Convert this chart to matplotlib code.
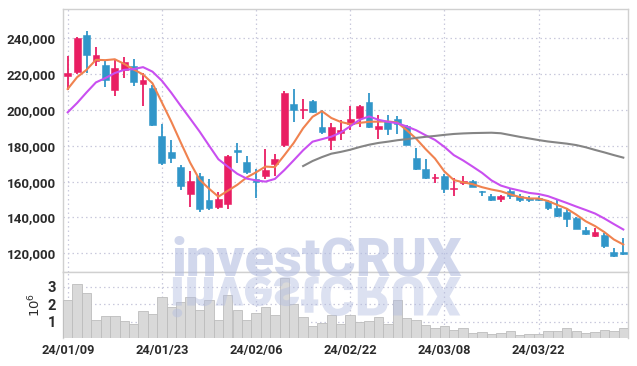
import matplotlib
matplotlib.use('Agg')
import matplotlib.pyplot as plt
import numpy as np
from matplotlib.textpath import TextPath
from matplotlib.patches import PathPatch
from matplotlib.font_manager import FontProperties
from matplotlib.transforms import Affine2D
from matplotlib.ticker import FuncFormatter, FixedLocator

# ---------------- data (prices in KRW, volume in shares) ----------------
opens = [218.7, 221.0, 241.9, 227.6, 225.2, 210.9, 222.4, 224.6, 214.3, 212.4,
         185.7, 176.3, 168.0, 153.3, 163.0, 149.6, 145.9, 147.4, 177.6, 170.7,
         161.3, 163.1, 169.6, 180.2, 203.1, 199.8, 205.2, 190.7, 183.1, 187.2,
         191.9, 195.7, 204.5, 189.1, 194.0, 194.9, 191.0, 173.3, 167.1, 161.9,
         163.2, 155.7, 159.1, 160.6, 154.4, 151.8, 150.3, 154.6, 152.2, 151.1,
         150.9, 149.2, 145.5, 143.0, 139.8, 133.0, 129.9, 130.2, 120.8, 120.5]
highs = [230.2, 240.5, 244.1, 235.0, 228.0, 228.0, 229.8, 228.3, 220.6, 214.1,
         192.4, 183.1, 169.4, 165.9, 164.6, 161.3, 154.3, 174.6, 181.7, 174.4,
         167.2, 178.3, 175.6, 210.4, 211.7, 206.1, 205.7, 199.8, 192.8, 194.6,
         202.4, 202.8, 209.4, 197.2, 197.2, 196.6, 191.5, 178.8, 172.8, 164.3,
         164.3, 161.9, 163.4, 161.1, 154.9, 152.9, 152.5, 156.0, 152.9, 151.8,
         151.8, 150.0, 149.6, 145.5, 140.4, 134.8, 134.3, 131.5, 122.9, 128.4]
lows = [211.3, 220.0, 220.6, 224.6, 212.8, 208.0, 217.8, 213.5, 202.4, 190.9,
        169.3, 170.2, 155.4, 145.6, 143.1, 144.3, 145.0, 145.0, 170.2, 164.1,
        151.1, 161.7, 163.1, 179.3, 193.1, 195.0, 198.3, 186.8, 177.4, 183.5,
        188.7, 190.6, 190.0, 184.0, 185.9, 186.5, 180.3, 166.6, 161.5, 159.2,
        153.4, 152.1, 158.3, 156.8, 152.1, 149.2, 148.9, 150.5, 148.7, 148.7,
        149.0, 144.4, 140.4, 134.8, 133.4, 130.2, 129.0, 123.2, 117.9, 119.2]
closes = [220.9, 240.0, 230.9, 230.7, 216.5, 223.5, 226.9, 215.4, 216.9, 191.8,
          170.2, 173.1, 157.6, 160.2, 144.6, 145.2, 150.2, 174.1, 176.7, 165.2,
          159.8, 166.3, 172.4, 209.6, 199.8, 200.7, 198.7, 187.6, 190.6, 188.7,
          194.9, 202.4, 190.6, 191.0, 189.1, 191.9, 180.7, 167.1, 162.1, 162.8,
          155.9, 156.6, 160.6, 157.2, 154.0, 149.6, 151.8, 151.8, 149.6, 150.0,
          149.6, 145.2, 140.7, 139.1, 133.6, 130.8, 131.7, 123.8, 118.6, 119.5]
ma_short = [211.7, 218.3, 222.4, 228.0, 227.8, 228.3, 225.7, 222.6, 219.8, 214.9,
            204.2, 193.5, 181.9, 170.6, 161.1, 156.1, 151.6, 154.9, 158.2, 162.3,
            165.2, 168.4, 168.1, 174.7, 181.6, 189.8, 196.2, 199.3, 195.5, 193.3,
            192.1, 192.8, 193.4, 193.5, 193.6, 193.0, 188.7, 184.0, 178.2, 172.9,
            165.7, 160.9, 159.6, 158.6, 156.9, 155.6, 154.6, 152.9, 151.4, 150.6,
            150.6, 149.2, 147.0, 144.9, 141.6, 137.9, 135.2, 131.8, 127.7, 124.9]
ma_mid = [198.7, 203.9, 209.8, 215.4, 217.8, 220.6, 222.4, 222.8, 223.9, 221.4,
          216.3, 209.6, 202.3, 195.2, 188.0, 180.2, 172.5, 168.4, 164.4, 161.7,
          160.7, 160.0, 161.5, 166.4, 171.9, 177.5, 182.3, 183.7, 185.1, 187.4,
          190.9, 194.5, 196.4, 194.5, 193.4, 192.6, 190.8, 188.7, 185.9, 183.3,
          179.4, 174.8, 171.8, 168.4, 164.9, 160.7, 157.8, 156.2, 155.0, 153.7,
          153.1, 151.9, 150.0, 148.1, 146.1, 144.2, 142.2, 139.4, 136.3, 133.3]
ma_long = [None] * 25 + [
    168.7, 171.5, 173.7, 175.6, 176.6,
    177.8, 179.3, 180.6, 181.6, 182.3, 183.1, 183.7, 184.4, 185.0, 185.5,
    186.1, 186.6, 186.9, 187.1, 187.2, 187.3, 187.0, 186.0, 185.0, 184.1,
    183.2, 182.4, 181.8, 181.2, 180.4, 179.2, 177.7, 176.3, 174.8, 173.4]
volumes = [2.22, 3.13, 2.62, 1.08, 1.30, 1.30, 1.04, 0.87, 1.59, 1.42,
           2.39, 1.82, 2.10, 2.39, 1.67, 2.22, 1.08, 2.50, 1.67, 1.08,
           1.48, 1.82, 1.38, 3.48, 2.01, 1.25, 0.73, 0.92, 1.36, 0.87,
           1.36, 0.98, 1.02, 1.25, 0.87, 2.22, 1.19, 1.08, 0.79, 0.64,
           0.73, 0.52, 0.62, 0.33, 0.39, 0.28, 0.35, 0.45, 0.22, 0.28,
           0.30, 0.45, 0.47, 0.62, 0.47, 0.35, 0.41, 0.50, 0.47, 0.62]
tick_labels = ['24/01/09', '24/01/23', '24/02/06', '24/02/22', '24/03/08', '24/03/22']
tick_index = [0, 10, 20, 30, 40, 50]

# ---------------- styling ----------------
UP = '#e91e63'
DOWN = '#3196c9'
GRID = '#c9c9dc'
TXT = '#2b2b2b'
plt.rcParams['font.family'] = ['Roboto', 'DejaVu Sans']

W, H, DPI = 637, 366, 100
fig = plt.figure(figsize=(W / DPI, H / DPI), dpi=DPI)

L, R = 63 / W, 628 / W
ax = fig.add_axes([L, 1 - 272 / H, R - L, (272 - 9) / H])
axv = fig.add_axes([L, 1 - 337.5 / H, R - L, (337.5 - 272) / H], sharex=ax)

o = np.array(opens) * 1000
h = np.array(highs) * 1000
lo = np.array(lows) * 1000
c = np.array(closes) * 1000
x = np.arange(len(o))
cols = [UP if cc >= oo else DOWN for oo, cc in zip(o, c)]

ax.vlines(x, lo, h, colors=cols, linewidth=1.3, zorder=3)
bottoms = np.minimum(o, c)
heights = np.maximum(np.abs(c - o), 500)
ax.bar(x, heights, bottom=bottoms, width=0.72, color=cols, edgecolor=cols,
       linewidth=0.4, zorder=4)

def to_arr(a):
    return np.array([np.nan if v is None else v * 1000 for v in a])

ax.plot(x, to_arr(ma_short), color='#f0824f', linewidth=1.5, zorder=5)
ax.plot(x, to_arr(ma_mid), color='#c94ff0', linewidth=1.5, zorder=5)
ax.plot(x, to_arr(ma_long), color='#858585', linewidth=1.5, zorder=5)

ax.set_xlim(-0.5, len(o) - 0.5)
ax.set_ylim(109560, 256350)
ax.yaxis.set_major_locator(FixedLocator([120000, 140000, 160000, 180000, 200000, 220000, 240000]))
ax.yaxis.set_major_formatter(FuncFormatter(lambda v, p: f'{int(v):,}'))

vol = np.array(volumes) * 1e6
axv.bar(x, vol, width=1.0, color='#d9d9d9', edgecolor='#bdbdbd', linewidth=0.6, zorder=3)
axv.set_ylim(0.1e6, 3.84e6)
axv.yaxis.set_major_locator(FixedLocator([1e6, 2e6, 3e6]))
axv.yaxis.set_major_formatter(FuncFormatter(lambda v, p: f'{int(round(v / 1e6))}'))
axv.set_ylabel(r'$10^6$', fontsize=9.5, color=TXT, labelpad=3)

axv.xaxis.set_major_locator(FixedLocator(tick_index))
axv.set_xticklabels(tick_labels)
plt.setp(ax.get_xticklabels(), visible=False)

for a in (ax, axv):
    a.grid(True, color=GRID, linestyle=(0, (1.2, 2.4)), linewidth=0.9, zorder=0)
    a.set_axisbelow(True)
    a.tick_params(axis='y', length=0, pad=5, labelsize=9.6, labelcolor=TXT)
    a.tick_params(axis='x', length=0, pad=5, labelsize=9.2, labelcolor=TXT)
    for lab in a.get_yticklabels() + a.get_xticklabels():
        lab.set_fontweight('bold')
    for s in a.spines.values():
        s.set_color('#d0d0d0')
        s.set_linewidth(1.0)
axv.tick_params(axis='y', labelsize=10.5)
axv.spines['bottom'].set_visible(False)
ax.spines['bottom'].set_color('#d8d8d8')

# ---------------- watermark ----------------
wm_prop = FontProperties(family=['Roboto'], weight='black')
wm_color = '#b3bde0'
fig.text(316.5 / W, 1 - 276 / H, 'investCRUX', fontproperties=wm_prop, fontsize=39,
         color=wm_color, alpha=0.6, ha='center', va='baseline', zorder=10)

tp = TextPath((0, 0), 'investCRUX', size=39, prop=wm_prop)
ext = tp.get_extents()
k = DPI / 72.0
x0 = 316.5 - (ext.x0 + ext.x1) / 2 * k
tr = Affine2D().scale(k, -k).translate(x0, H - 277)
patch = PathPatch(tp, transform=tr, facecolor=wm_color, edgecolor='none', alpha=0.45, zorder=10)
fig.add_artist(patch)

fig.savefig('out.png', dpi=DPI, facecolor='white')
